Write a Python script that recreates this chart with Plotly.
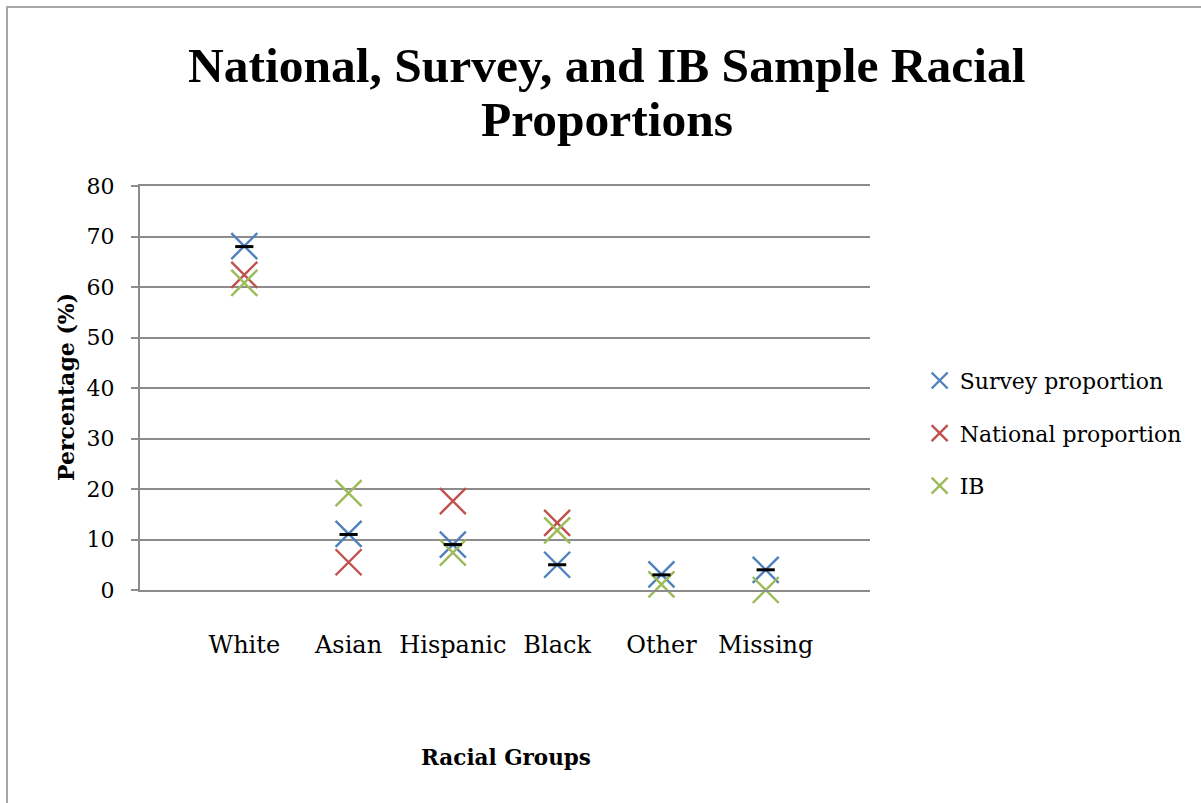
import plotly.graph_objects as go

# Racial groups on the category axis
groups = ["White", "Asian", "Hispanic", "Black", "Other", "Missing"]

# Percentages for each sample
survey = [68.1, 11.1, 9.0, 5.0, 3.1, 4.0]
national = [62.4, 5.5, 17.6, 13.3, None, None]
ib = [60.8, 19.2, 7.4, 11.8, 1.1, 0.0]

# Short black dash drawn on top of each survey value
survey_dash = [68.0, 11.0, 9.0, 5.0, 3.0, 4.0]

y_ticks = [0, 10, 20, 30, 40, 50, 60, 70, 80]

title_lines = ["National, Survey, and IB Sample Racial", "Proportions"]

BLUE = "#4F81BD"
RED = "#C0504D"
GREEN = "#9BBB59"
GRID = "#8c8c8c"
SERIF = "DejaVu Serif"
TITLE_SERIF = "Liberation Serif"

fig = go.Figure()

for name, vals, col in [("Survey proportion", survey, BLUE),
                        ("National proportion", national, RED),
                        ("IB", ib, GREEN)]:
    fig.add_trace(go.Scatter(
        x=groups, y=vals, mode="markers", name=name, legendgroup=name,
        cliponaxis=False,
        marker=dict(symbol="x-thin-open", size=26, color=col,
                    line=dict(color=col, width=2.4)),
    ))

fig.add_trace(go.Scatter(
    x=groups, y=survey_dash, mode="markers", showlegend=False, name="Survey dash",
    cliponaxis=False,
    marker=dict(symbol="line-ew", size=13, color="black",
                line=dict(color="black", width=3)),
))

title_annotations = [
    dict(text=f"<b>{line}</b>", xref="paper", yref="paper", x=0.640, y=ypos,
         xanchor="center", yanchor="middle", showarrow=False,
         font=dict(family=TITLE_SERIF, size=49.5, color="black"))
    for line, ypos in zip(title_lines, [1.2995, 1.1634])
]

fig.update_layout(
    width=1201, height=803,
    margin=dict(l=140, r=331, t=186, b=213),
    paper_bgcolor="white", plot_bgcolor="white",
    font=dict(family=SERIF, size=22, color="black"),
    showlegend=True,
    legend=dict(x=1.068, y=0.570, xanchor="left", yanchor="top",
                font=dict(family=SERIF, size=22, color="black"),
                tracegroupgap=21, itemwidth=30, bgcolor="rgba(0,0,0,0)"),
    xaxis=dict(type="category", categoryorder="array", categoryarray=groups,
               range=[-1, 6], showgrid=False, zeroline=False,
               showline=True, mirror=True, linecolor=GRID, linewidth=2,
               ticks="", ticklabelstandoff=32,
               tickfont=dict(family=SERIF, size=24, color="black")),
    yaxis=dict(range=[0, 80], tickvals=y_ticks, showgrid=True,
               gridcolor=GRID, gridwidth=2, zeroline=False,
               showline=True, linecolor=GRID, linewidth=2,
               ticks="outside", ticklen=7, tickwidth=2, tickcolor=GRID,
               ticklabelstandoff=12,
               tickfont=dict(family=SERIF, size=22, color="black")),
    shapes=[dict(type="rect", xref="paper", yref="paper",
                 x0=-0.1822, y0=-0.56, x1=1.48, y1=1.4431,
                 line=dict(color="#a6a6a6", width=2), layer="below")],
    annotations=title_annotations + [
        dict(text="<b>Percentage (%)</b>", xref="paper", yref="paper",
             x=-0.1014, y=0.5025, textangle=-90, showarrow=False,
             xanchor="center", yanchor="middle",
             font=dict(family=SERIF, size=22, color="black")),
        dict(text="<b>Racial Groups</b>", xref="paper", yref="paper",
             x=0.5014, y=-0.4158, showarrow=False,
             xanchor="center", yanchor="middle",
             font=dict(family=SERIF, size=21.5, color="black")),
    ],
)

fig.write_html("out.html")
